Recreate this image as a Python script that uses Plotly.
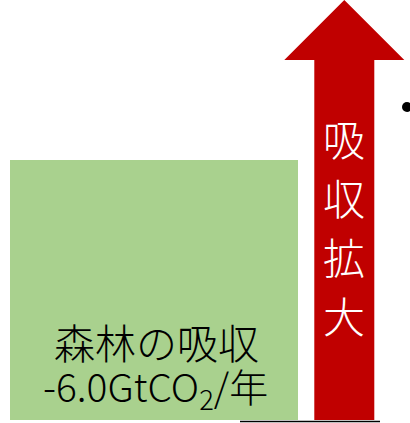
import plotly.graph_objects as go

# Forest CO2 uptake and the message on the arrow
forest_label = "森林の吸収"
forest_uptake = -6.0          # GtCO2 / year
unit_label = "GtCO<sub>2</sub>/年"
arrow_chars = ["吸", "収", "拡", "大"]

W, H = 410, 423
BASE_PX = 420                 # baseline in screen pixels
PX_PER_UNIT = 260 / abs(forest_uptake)
FONT = "Noto Sans CJK JP"


def y_of(px):
    """Screen pixel row -> value on the y axis (GtCO2)."""
    return (BASE_PX - px) / PX_PER_UNIT


fig = go.Figure()

# Forest uptake bar
fig.add_trace(go.Bar(
    x=[154], y=[abs(forest_uptake)], base=0, width=288,
    marker=dict(color="#A9D18E", line=dict(width=0)),
    hoverinfo="skip", showlegend=False,
))

# Upward arrow (uptake expansion)
ax = [314.3, 314.3, 284.3, 344.3, 404.3, 374.3, 374.3, 314.3]
ay = [y_of(p) for p in [BASE_PX, 60, 60, 0, 60, 60, BASE_PX, BASE_PX]]
fig.add_trace(go.Scatter(
    x=ax, y=ay, mode="lines", fill="toself",
    fillcolor="#C00000", line=dict(color="#C00000", width=0),
    hoverinfo="skip", showlegend=False,
))

# Vertical text inside the arrow
for i, ch in enumerate(arrow_chars):
    fig.add_annotation(
        x=344.3, y=y_of(137 + i * 59), text=ch, showarrow=False,
        font=dict(family=FONT, size=42, color="white", weight=300),
        xanchor="center", yanchor="middle",
    )

# Bar labels
fig.add_annotation(
    x=156, y=y_of(341), text=forest_label, showarrow=False,
    font=dict(family=FONT, size=41, color="black", weight=300),
    xanchor="center", yanchor="middle",
)
fig.add_annotation(
    x=155, y=y_of(387), text=f"{forest_uptake:.1f}{unit_label}", showarrow=False,
    font=dict(family=FONT, size=39, color="black", weight=300),
    xanchor="center", yanchor="middle",
)

# Baseline segment and bullet
fig.add_shape(type="line", x0=240, x1=380, y0=y_of(421.5), y1=y_of(421.5),
              line=dict(color="black", width=1.5))
fig.add_shape(type="circle", x0=402, x1=412, y0=y_of(102), y1=y_of(112),
              fillcolor="black", line=dict(width=0))

fig.update_layout(
    width=W, height=H,
    margin=dict(l=0, r=0, t=0, b=0),
    paper_bgcolor="white", plot_bgcolor="white",
    xaxis=dict(range=[0, W], visible=False, fixedrange=True),
    yaxis=dict(range=[y_of(H), y_of(0)], visible=False, fixedrange=True),
    bargap=0,
)

fig.write_html("out.html", config={"displayModeBar": False})
